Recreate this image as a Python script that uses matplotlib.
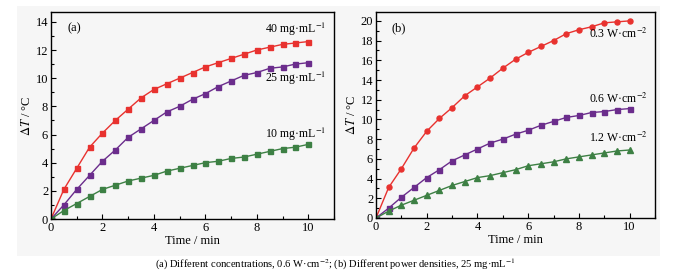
import matplotlib
matplotlib.use("Agg")
import matplotlib.pyplot as plt
from matplotlib.patches import Rectangle
from matplotlib.ticker import MultipleLocator

plt.rcParams['font.family'] = ['Liberation Serif', 'DejaVu Sans', 'Noto Sans CJK SC']
plt.rcParams['mathtext.fontset'] = 'stix'

time = [i * 0.5 for i in range(21)]

conc_40 = [0, 2.1, 3.6, 5.1, 6.1, 7.0, 7.8, 8.6, 9.2, 9.6, 10.0, 10.4, 10.8, 11.1, 11.4, 11.7, 12.0, 12.2, 12.4, 12.5, 12.6]
conc_25 = [0, 1.0, 2.1, 3.1, 4.1, 4.9, 5.8, 6.4, 7.0, 7.6, 8.0, 8.5, 8.9, 9.4, 9.8, 10.2, 10.4, 10.7, 10.8, 11.0, 11.1]
conc_10 = [0, 0.6, 1.1, 1.6, 2.1, 2.4, 2.7, 2.9, 3.1, 3.4, 3.6, 3.8, 4.0, 4.1, 4.3, 4.4, 4.6, 4.8, 5.0, 5.1, 5.3]

pow_03 = [0, 3.1, 5.0, 7.1, 8.8, 10.1, 11.2, 12.4, 13.3, 14.2, 15.2, 16.1, 16.8, 17.4, 18.0, 18.7, 19.1, 19.4, 19.8, 19.9, 20.0]
pow_06 = [0, 1.0, 2.1, 3.1, 4.1, 4.9, 5.8, 6.4, 7.0, 7.6, 8.0, 8.5, 8.9, 9.4, 9.8, 10.2, 10.4, 10.7, 10.8, 11.0, 11.1]
pow_12 = [0, 0.7, 1.3, 1.8, 2.3, 2.8, 3.3, 3.7, 4.1, 4.3, 4.6, 4.9, 5.3, 5.5, 5.7, 6.0, 6.2, 6.4, 6.6, 6.8, 6.9]

labels_a = ['40 mg·mL$^{-1}$', '25 mg·mL$^{-1}$', '10 mg·mL$^{-1}$']
labels_b = ['0.3 W·cm$^{-2}$', '0.6 W·cm$^{-2}$', '1.2 W·cm$^{-2}$']

RED = '#e8322f'
PURPLE = '#6b2d8c'
GREEN = '#3d8044'

W, H = 677, 274
fig = plt.figure(figsize=(W / 100, H / 100), dpi=100)
bg = Rectangle((17 / W, 1 - 256 / H), (660 - 17) / W, (256 - 6) / H,
               transform=fig.transFigure, facecolor='#f6f6f6', edgecolor='none', zorder=-10)
fig.patches.append(bg)

ax1 = fig.add_axes([51 / W, 1 - 219 / H, (334 - 51) / W, (219 - 12) / H])
ax2 = fig.add_axes([376 / W, 1 - 218 / H, (655 - 376) / W, (218 - 12) / H])

ms = 3.6
ax1.plot(time, conc_40, '-s', color=RED, lw=1.0, ms=ms)
ax1.plot(time, conc_25, '-s', color=PURPLE, lw=1.0, ms=ms)
ax1.plot(time, conc_10, '-s', color=GREEN, lw=1.0, ms=ms)

ax2.plot(time, pow_03, '-o', color=RED, lw=1.0, ms=ms)
ax2.plot(time, pow_06, '-s', color=PURPLE, lw=1.0, ms=ms)
ax2.plot(time, pow_12, '-^', color=GREEN, lw=1.0, ms=ms + 0.4)

ax1.set_xlim(0, 11)
ax1.set_ylim(0, 14.7)
ax2.set_xlim(0, 11)
ax2.set_ylim(0, 20.9)

ax1.yaxis.set_major_locator(MultipleLocator(2))
ax1.yaxis.set_minor_locator(MultipleLocator(1))
ax2.yaxis.set_major_locator(MultipleLocator(2))
ax2.yaxis.set_minor_locator(MultipleLocator(1))

for ax in (ax1, ax2):
    ax.set_zorder(5)
    ax.set_facecolor('#f6f6f6')
    ax.xaxis.set_major_locator(MultipleLocator(2))
    ax.xaxis.set_minor_locator(MultipleLocator(1))
    ax.tick_params(which='both', direction='in', labelsize=9, pad=2)
    ax.tick_params(which='major', length=3.5, width=0.8)
    ax.tick_params(which='minor', length=2, width=0.8)
    for s in ax.spines.values():
        s.set_linewidth(1.0)
    ax.set_xlabel('Time / min', fontsize=9, labelpad=1)
    ax.set_ylabel(r'$\Delta T$ / °C', fontsize=9, labelpad=2)

ax1.text(0.057, 0.95, '(a)', transform=ax1.transAxes, fontsize=9, va='top')
ax2.text(0.057, 0.95, '(b)', transform=ax2.transAxes, fontsize=9, va='top')

fs = 8.5
ax1.text(10.7, 13.45, labels_a[0], fontsize=fs, ha='right', va='center')
ax1.text(10.7, 10.0, labels_a[1], fontsize=fs, ha='right', va='center')
ax1.text(10.7, 6.0, labels_a[2], fontsize=fs, ha='right', va='center')

ax2.text(10.7, 18.65, labels_b[0], fontsize=fs, ha='right', va='center')
ax2.text(10.7, 12.05, labels_b[1], fontsize=fs, ha='right', va='center')
ax2.text(10.7, 8.1, labels_b[2], fontsize=fs, ha='right', va='center')

fig.text(335 / W, 1 - 264 / H,
         '(a) Different concentrations, 0.6 W·cm$^{-2}$; (b) Different power densities, 25 mg·mL$^{-1}$',
         ha='center', va='center', fontsize=7.6)

fig.savefig('out.png', dpi=100)
